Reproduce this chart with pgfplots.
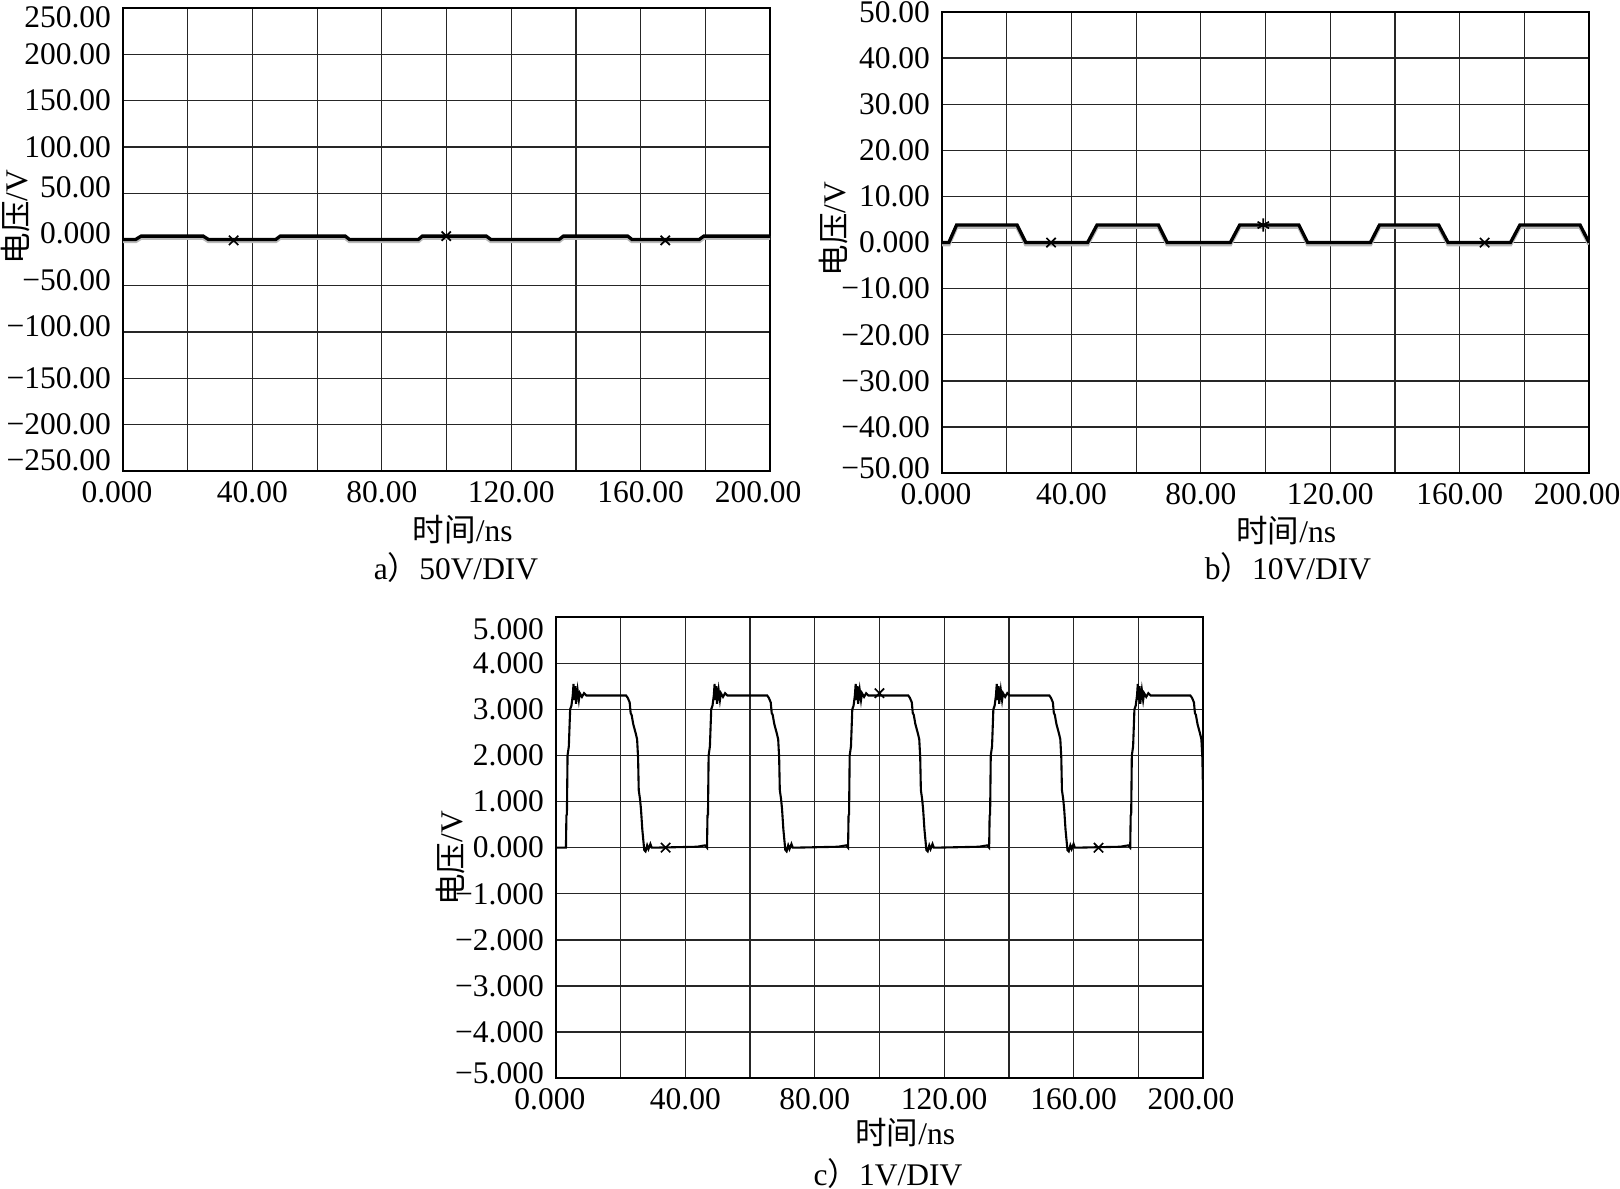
\documentclass[border=0pt]{standalone}
\usepackage{fontspec}
\setmainfont{Liberation Serif}
\newfontfamily\cjk{Noto Sans CJK SC}
\usepackage{pgfplots}
\pgfplotsset{compat=1.18}
\newcommand{\sh}[2]{\raisebox{#1}[\height][\depth]{#2}}
\pgfplotsset{osc/.style={
  scale only axis, width=215.7pt, height=154pt, anchor=north west,
  xmin=0, xmax=200,
  xtick={0,20,...,200}, xticklabels={\hspace*{-4pt}0.000,,40.00,,80.00,,120.00,,160.00,,200.00\hspace*{8pt}},
  grid=major, major grid style={black!85,line width=0.42pt},
  axis line style={line width=0.6pt},
  major tick length=0pt,
  tick label style={font=\fontsize{10.5}{12}\selectfont},
  label style={font=\fontsize{10.5}{12}\selectfont},
  xlabel={{\cjk 时间}/ns}, ylabel={{\cjk 电压}/V},
  xticklabel style={yshift=0pt},
  yticklabel style={xshift=-0.5pt},
}}
\begin{document}
\begin{tikzpicture}
\useasboundingbox (0,0) rectangle (540pt,-396.33pt);
% ---------- a ----------
\begin{axis}[osc, at={(41pt,-2.67pt)}, height=154.3pt,
  ymin=-250, ymax=250, ytick={-250,-200,...,250},
  yticklabels={\sh{3.5pt}{−250.00},−200.00,−150.00,\sh{2pt}{−100.00},\sh{2pt}{−50.00},\sh{2pt}{0.000},\sh{2pt}{50.00},100.00,150.00,200.00,\sh{-3pt}{250.00}},
  xlabel style={at={(axis description cs:0.525,-0.127)},anchor=center},
  ylabel style={at={(axis description cs:-0.166,0.549)},anchor=center}]
\addplot[gray!55, line width=1.3pt, yshift=-0.6pt] coordinates {(0,0)(3.9,0)(5.6,3.6)(24.8,3.6)(26.4,0)(47.2,0)(48.6,3.6)(68.7,3.6)(70.0,0)(91.3,0)(92.5,3.6)(112.3,3.6)(113.7,0)(134.8,0)(136.1,3.6)(156.0,3.6)(157.3,0)(178.1,0)(179.5,3.6)(200,3.6)};
\addplot[black, line width=1.1pt] coordinates {(0,0)(3.9,0)(5.6,3.6)(24.8,3.6)(26.4,0)(47.2,0)(48.6,3.6)(68.7,3.6)(70.0,0)(91.3,0)(92.5,3.6)(112.3,3.6)(113.7,0)(134.8,0)(136.1,3.6)(156.0,3.6)(157.3,0)(178.1,0)(179.5,3.6)(200,3.6)};
\addplot[only marks, mark=x, mark size=2.2pt, black, mark options={line width=0.55pt}] coordinates {(34.2,-1)(99.9,3.6)(167.6,-1)};
\end{axis}
% ---------- b ----------
\begin{axis}[osc, at={(314pt,-4pt)}, height=153.7pt,
  ymin=-50, ymax=50, ytick={-50,-40,...,50},
  yticklabels={\sh{1.5pt}{−50.00},−40.00,−30.00,−20.00,−10.00,0.000,10.00,20.00,30.00,40.00,50.00},
  xlabel style={at={(axis description cs:0.532,-0.124)},anchor=center},
  ylabel style={at={(axis description cs:-0.168,0.529)},anchor=center}]
\addplot[gray!55, line width=1.3pt, yshift=-0.6pt] coordinates {(0,0)(2.1,0)(4.5,3.8)(23.2,3.8)(25.9,0)(45.0,0)(47.9,3.8)(66.9,3.8)(69.6,0)(89.1,0)(92.0,3.8)(110.3,3.8)(113.0,0)(132.4,0)(135.2,3.8)(153.5,3.8)(156.4,0)(175.7,0)(178.6,3.8)(197.2,3.8)(200,0)};
\addplot[black, line width=1.1pt] coordinates {(0,0)(2.1,0)(4.5,3.8)(23.2,3.8)(25.9,0)(45.0,0)(47.9,3.8)(66.9,3.8)(69.6,0)(89.1,0)(92.0,3.8)(110.3,3.8)(113.0,0)(132.4,0)(135.2,3.8)(153.5,3.8)(156.4,0)(175.7,0)(178.6,3.8)(197.2,3.8)(200,0)};
\addplot[only marks, mark=x, mark size=2.2pt, black, mark options={line width=0.55pt}] coordinates {(33.7,0)(167.7,0)};
\addplot[only marks, mark=asterisk, mark size=2.2pt, black, mark options={line width=0.55pt}] coordinates {(99.3,3.8)};
\end{axis}
% ---------- c ----------
\begin{axis}[osc, at={(185.3pt,-205.7pt)}, height=153.7pt,
  ymin=-5, ymax=5, ytick={-5,-4,...,5},
  yticklabels={\sh{1.5pt}{−5.000},−4.000,−3.000,−2.000,−1.000,0.000,1.000,2.000,3.000,4.000,\sh{-4pt}{5.000}},
  xlabel style={at={(axis description cs:0.540,-0.119)},anchor=center},
  ylabel style={at={(axis description cs:-0.163,0.477)},anchor=center}]
\addplot[black, line width=0.7pt] coordinates {
(0,0)(3.1,0)(3.25,0.7)(3.4,0.72)(3.6,2.0)(4.0,2.2)(4.4,3.0)(4.8,3.08)(5.2,3.3)(5.45,3.55)(5.7,3.2)(6.0,3.5)(6.2,3.12)(6.7,3.42)(7.1,3.2)(7.4,3.35)(8.05,3.27)(8.7,3.35)(9.4,3.3)(21.7,3.3)(22.2,3.25)(22.8,3.15)(23.1,2.92)(23.4,2.88)(23.9,2.68)(24.7,2.47)(25.1,2.35)(25.4,1.95)(25.6,1.25)(26.0,1.05)(26.3,0.83)(26.7,0.4)(27.3,-0.05)(27.7,-0.08)(28.2,0.05)(28.6,-0.03)(29.2,0.08)(29.6,0)(30.2,0)(43.6,0.02)(46.1,0.05)
(46.7,0)(46.85,0.7)(47.0,0.72)(47.2,2.0)(47.6,2.2)(48.0,3.0)(48.4,3.08)(48.8,3.3)(49.05,3.55)(49.3,3.2)(49.6,3.5)(49.8,3.12)(50.3,3.42)(50.7,3.2)(51.0,3.35)(51.65,3.27)(52.3,3.35)(53.0,3.3)(65.3,3.3)(65.8,3.25)(66.4,3.15)(66.7,2.92)(67.0,2.88)(67.5,2.68)(68.3,2.47)(68.7,2.35)(69.0,1.95)(69.2,1.25)(69.6,1.05)(69.9,0.83)(70.3,0.4)(70.9,-0.05)(71.3,-0.08)(71.8,0.05)(72.2,-0.03)(72.8,0.08)(73.2,0)(73.8,0)(87.2,0.02)(89.7,0.05)
(90.3,0)(90.45,0.7)(90.6,0.72)(90.8,2.0)(91.2,2.2)(91.6,3.0)(92.0,3.08)(92.4,3.3)(92.65,3.55)(92.9,3.2)(93.2,3.5)(93.4,3.12)(93.9,3.42)(94.3,3.2)(94.6,3.35)(95.25,3.27)(95.9,3.35)(96.6,3.3)(108.9,3.3)(109.4,3.25)(110.0,3.15)(110.3,2.92)(110.6,2.88)(111.1,2.68)(111.9,2.47)(112.3,2.35)(112.6,1.95)(112.8,1.25)(113.2,1.05)(113.5,0.83)(113.9,0.4)(114.5,-0.05)(114.9,-0.08)(115.4,0.05)(115.8,-0.03)(116.4,0.08)(116.8,0)(117.4,0)(130.8,0.02)(133.3,0.05)
(133.9,0)(134.05,0.7)(134.2,0.72)(134.4,2.0)(134.8,2.2)(135.2,3.0)(135.6,3.08)(136.0,3.3)(136.25,3.55)(136.5,3.2)(136.8,3.5)(137.0,3.12)(137.5,3.42)(137.9,3.2)(138.2,3.35)(138.85,3.27)(139.5,3.35)(140.2,3.3)(152.5,3.3)(153.0,3.25)(153.6,3.15)(153.9,2.92)(154.2,2.88)(154.7,2.68)(155.5,2.47)(155.9,2.35)(156.2,1.95)(156.4,1.25)(156.8,1.05)(157.1,0.83)(157.5,0.4)(158.1,-0.05)(158.5,-0.08)(159.0,0.05)(159.4,-0.03)(160.0,0.08)(160.4,0)(161.0,0)(174.4,0.02)(176.9,0.05)
(177.5,0)(177.65,0.7)(177.8,0.72)(178.0,2.0)(178.4,2.2)(178.8,3.0)(179.2,3.08)(179.6,3.3)(179.85,3.55)(180.1,3.2)(180.4,3.5)(180.6,3.12)(181.1,3.42)(181.5,3.2)(181.8,3.35)(182.45,3.27)(183.1,3.35)(183.8,3.3)(196.1,3.3)(196.6,3.25)(197.2,3.15)(197.5,2.92)(197.8,2.88)(198.3,2.68)(199.1,2.47)(199.5,2.35)(199.8,1.95)(200.0,1.25)};
\addplot[only marks, mark=x, mark size=2.2pt, black, mark options={line width=0.55pt}] coordinates {(33.9,0)(100,3.35)(167.7,0)};
\end{axis}
% captions
\node[font=\fontsize{10.5}{12}\selectfont] at (152pt,-189.3pt) {a{\cjk ）}50V/DIV};
\node[font=\fontsize{10.5}{12}\selectfont] at (429.3pt,-189.3pt) {b{\cjk ）}10V/DIV};
\node[font=\fontsize{10.5}{12}\selectfont] at (296pt,-391.3pt) {c{\cjk ）}1V/DIV};
\end{tikzpicture}
\end{document}
